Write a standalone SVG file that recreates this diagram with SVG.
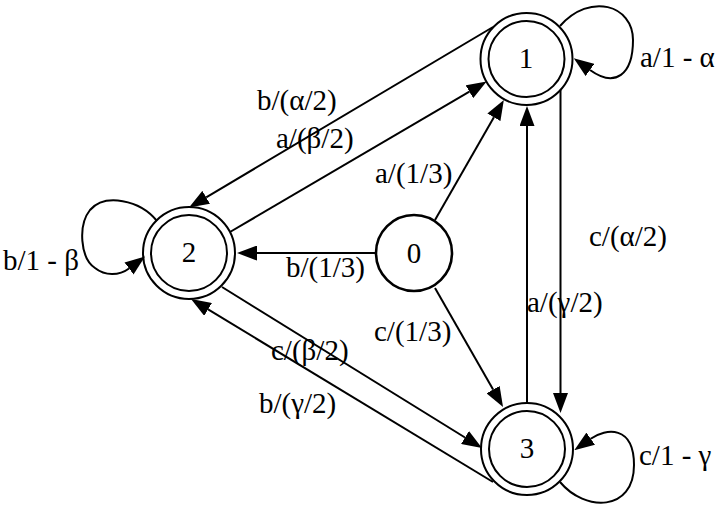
<svg xmlns="http://www.w3.org/2000/svg" width="722" height="511" viewBox="0 0 722 511">
<style>
.n{fill:none;stroke:#000;stroke-width:2}
.n0{fill:none;stroke:#000;stroke-width:2.6}
.e{fill:none;stroke:#000;stroke-width:2;marker-end:url(#ah)}
text{font-family:"Liberation Serif","Times New Roman",serif;font-size:29px;fill:#000}
.c{text-anchor:middle}
</style>
<defs>
<marker id="ah" markerUnits="userSpaceOnUse" viewBox="0 0 20 15" markerWidth="20" markerHeight="15" refX="0" refY="7.5" orient="auto">
<path d="M0,0 L20,7.5 L0,15 Z" fill="#000"/>
</marker>
</defs>
<rect width="722" height="511" fill="#fff"/>
<g id="edges">
<path class="e" d="M435,220 L493.9,117.3"/>
<path class="e" d="M376,253 L257,253"/>
<path class="e" d="M435,288 L493.1,389.6"/>
<path class="e" d="M493,27 L206.2,197.3"/>
<path class="e" d="M230,232 L469.4,91.7"/>
<path class="e" d="M222,287 L465,437.5"/>
<path class="e" d="M493,482 L208.1,309.4"/>
<path class="e" d="M527,403 L527,126"/>
<path class="e" d="M560.5,90 L560.5,393"/>
<path class="e" d="M560,26 C590,-8 633,5 633,40 C633,75 615,88 590,70"/>
<path class="e" d="M157,221 C140,200 105,193 90,210 C78,225 80,258 95,268 C105,276 119,276 129,268.5"/>
<path class="e" d="M560,482 C585,512 634,512 634,465 C634,425 606,428 590.7,438.7"/>
</g>
<g id="edge-labels">
<text x="640" y="67">a/1 - α</text>
<text x="3" y="270">b/1 - β</text>
<text x="639" y="465">c/1 - γ</text>
<text x="257" y="110">b/(α/2)</text>
<text x="276" y="148">a/(β/2)</text>
<text x="375" y="183">a/(1/3)</text>
<text x="286" y="277">b/(1/3)</text>
<text x="374" y="341">c/(1/3)</text>
<text x="271" y="360">c/(β/2)</text>
<text x="259" y="413">b/(γ/2)</text>
<text x="589" y="246">c/(α/2)</text>
<text x="527" y="312">a/(γ/2)</text>
</g>
<g id="node0">
<circle class="n0" cx="414" cy="253" r="38"/>
<text class="c" x="414" y="262.5">0</text>
</g>
<g id="node1">
<circle class="n" cx="526.5" cy="59" r="38"/>
<circle class="n" cx="526.5" cy="59" r="46"/>
<text class="c" x="526" y="67.5">1</text>
</g>
<g id="node2">
<circle class="n" cx="189" cy="253" r="38"/>
<circle class="n" cx="189" cy="253" r="46"/>
<text class="c" x="189" y="262">2</text>
</g>
<g id="node3">
<circle class="n" cx="527" cy="449" r="38"/>
<circle class="n" cx="527" cy="449" r="46"/>
<text class="c" x="527" y="457.5">3</text>
</g>
</svg>
